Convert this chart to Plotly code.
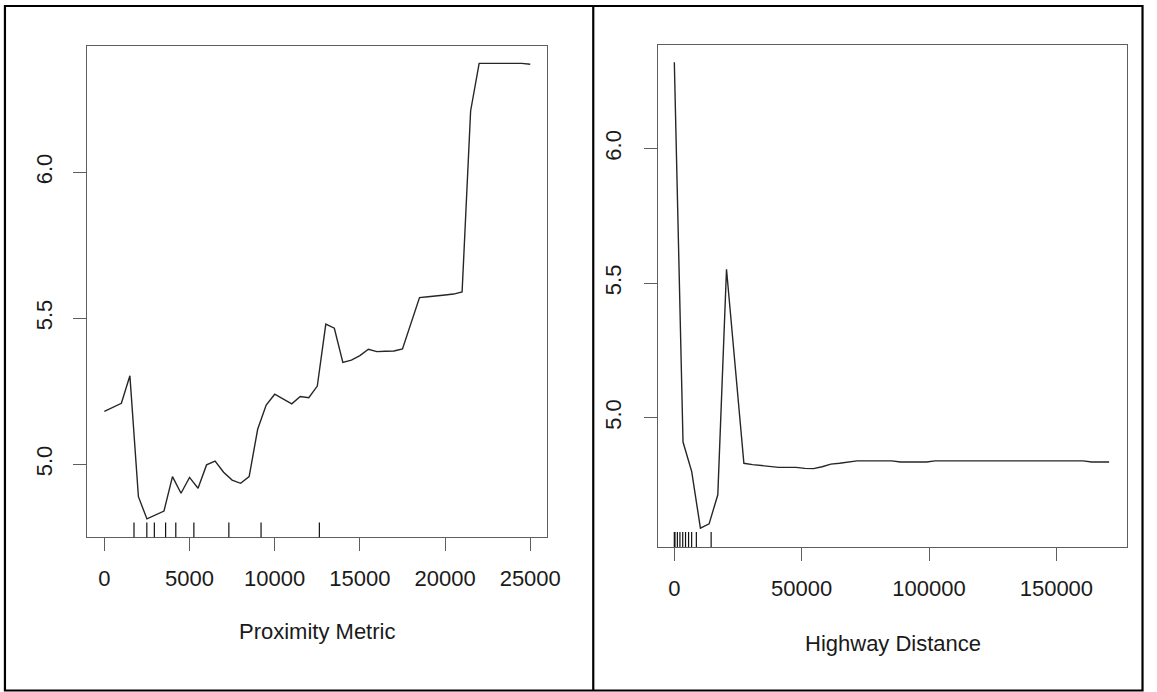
import plotly.graph_objects as go

W, H = 1157, 692

# ---- Left panel data: Proximity Metric ----
prox_x = [0, 500, 1000, 1500, 2000, 2500, 3000, 3500, 4000, 4500,
          5000, 5500, 6000, 6500, 7000, 7500, 8000, 8500, 9000, 9500,
          10000, 10500, 11000, 11500, 12000, 12500, 13000, 13500, 14000, 14500,
          15000, 15500, 16000, 16500, 17000, 17500, 18000, 18500, 19000, 19500,
          20000, 20500, 21000, 21500, 22000, 22500, 23000, 23500, 24000, 24500,
          25000]
prox_y = [5.181, 5.195, 5.209, 5.303, 4.889, 4.813, 4.826, 4.840, 4.958, 4.901,
          4.955, 4.918, 4.998, 5.011, 4.973, 4.946, 4.935, 4.958, 5.120, 5.203,
          5.240, 5.223, 5.207, 5.232, 5.228, 5.268, 5.480, 5.466, 5.349, 5.357,
          5.372, 5.394, 5.386, 5.387, 5.388, 5.395, 5.483, 5.571, 5.574, 5.576,
          5.580, 5.583, 5.590, 6.210, 6.373, 6.373, 6.373, 6.373, 6.373, 6.373,
          6.370]
prox_rug = [1740, 2494, 2935, 3596, 4194, 5255, 7309, 9199, 12622]
prox_xticks = [0, 5000, 10000, 15000, 20000, 25000]
prox_yticks = [5.0, 5.5, 6.0]

# ---- Right panel data: Highway Distance ----
hwy_x = [0, 3414, 6828, 10242, 13656, 17070, 20484, 23898, 27312, 30726,
         34140, 37554, 40968, 44382, 47796, 51210, 54624, 58038, 61452, 64866,
         68280, 71694, 75108, 78522, 81936, 85350, 88764, 92178, 95592, 99006,
         102420, 105834, 109248, 112662, 116076, 119490, 122904, 126318, 129732, 133146,
         136560, 139974, 143388, 146802, 150216, 153630, 157044, 160458, 163872, 167286,
         170700]
hwy_y = [6.321, 4.910, 4.800, 4.590, 4.606, 4.714, 5.552, 5.188, 4.831, 4.826,
         4.822, 4.818, 4.816, 4.816, 4.816, 4.812, 4.811, 4.818, 4.828, 4.831,
         4.836, 4.840, 4.840, 4.840, 4.840, 4.840, 4.836, 4.836, 4.836, 4.836,
         4.840, 4.840, 4.840, 4.840, 4.840, 4.840, 4.840, 4.840, 4.840, 4.840,
         4.840, 4.840, 4.840, 4.840, 4.840, 4.840, 4.840, 4.840, 4.836, 4.836,
         4.836]
hwy_rug = [0, 250, 1200, 2200, 3300, 4400, 5600, 6800, 8650, 14450]
hwy_xticks = [0, 50000, 100000, 150000]
hwy_yticks = [5.0, 5.5, 6.0]

FONT = "Liberation Sans, Arial, sans-serif"
FS = 22
LINE_C = "#262626"
AX_C = "#5e5e5e"


def px_x(v):
    return v / W


def px_y(v):
    return 1 - v / H


fig = go.Figure()
fig.add_trace(go.Scatter(x=prox_x, y=prox_y, mode="lines",
                         line=dict(color=LINE_C, width=1.4),
                         xaxis="x", yaxis="y", showlegend=False, hoverinfo="skip"))
fig.add_trace(go.Scatter(x=hwy_x, y=hwy_y, mode="lines",
                         line=dict(color=LINE_C, width=1.4),
                         xaxis="x2", yaxis="y2", showlegend=False, hoverinfo="skip"))

shapes = []
for v in prox_rug:
    shapes.append(dict(type="line", xref="x", yref="y domain", x0=v, x1=v,
                       y0=0, y1=0.03, line=dict(color="#111", width=1.2)))
for v in hwy_rug:
    shapes.append(dict(type="line", xref="x2", yref="y2 domain", x0=v, x1=v,
                       y0=0, y1=0.03, line=dict(color="#111", width=1.2)))

# outer frame and divider
shapes.append(dict(type="rect", xref="paper", yref="paper",
                   x0=px_x(5), x1=px_x(1155.5), y0=px_y(690.5), y1=px_y(6),
                   line=dict(color="black", width=2.2)))
shapes.append(dict(type="line", xref="paper", yref="paper",
                   x0=px_x(600), x1=px_x(600), y0=px_y(690.5), y1=px_y(6),
                   line=dict(color="black", width=2.2)))

axis_common = dict(showline=True, mirror=True, linecolor=AX_C, linewidth=1.3,
                   showgrid=False, zeroline=False, ticks="outside",
                   tickcolor=AX_C, tickwidth=1.3, ticklen=13,
                   tickfont=dict(family=FONT, size=FS, color="#1a1a1a"))

fig.update_layout(
    width=W, height=H,
    margin=dict(l=0, r=0, t=0, b=0),
    paper_bgcolor="white", plot_bgcolor="white",
    shapes=shapes,
    xaxis=dict(domain=[px_x(88.3), px_x(553.5)], range=[-1000, 26000],
               tickvals=prox_xticks, ticktext=[str(t) for t in prox_xticks],
               anchor="y", ticklabelstandoff=8, **axis_common),
    yaxis=dict(domain=[px_y(537.3), px_y(45.7)], range=[4.75, 6.4336],
               tickvals=prox_yticks, ticktext=["%.1f" % t for t in prox_yticks],
               tickangle=-90, anchor="x", ticklabelstandoff=12, **axis_common),
    xaxis2=dict(domain=[px_x(665.5), px_x(1140)], range=[-6400, 177800],
                tickvals=hwy_xticks, ticktext=[str(t) for t in hwy_xticks],
                anchor="y2", ticklabelstandoff=8, **axis_common),
    yaxis2=dict(domain=[px_y(547), px_y(45)], range=[4.52, 6.385],
                tickvals=hwy_yticks, ticktext=["%.1f" % t for t in hwy_yticks],
                tickangle=-90, anchor="x2", ticklabelstandoff=14, **axis_common),
    annotations=[
        dict(text="Proximity Metric", xref="paper", yref="paper",
             x=px_x(321), y=px_y(631.5), xanchor="center", yanchor="middle",
             showarrow=False, font=dict(family=FONT, size=FS, color="#1a1a1a")),
        dict(text="Highway Distance", xref="paper", yref="paper",
             x=px_x(903), y=px_y(643.5), xanchor="center", yanchor="middle",
             showarrow=False, font=dict(family=FONT, size=FS, color="#1a1a1a")),
    ],
)

fig.write_html("out.html")
